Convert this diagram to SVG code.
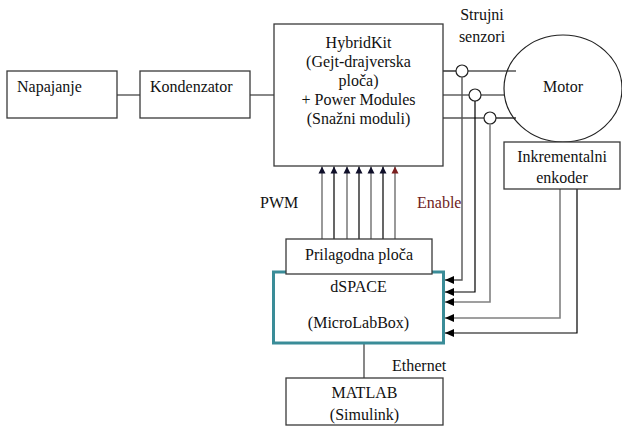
<svg xmlns="http://www.w3.org/2000/svg" width="622" height="426" viewBox="0 0 622 426">
<style>
.box{fill:#fff;stroke:#3a3a3a;stroke-width:1.3}
text{font-family:'Liberation Serif','DejaVu Serif',serif;font-size:16px;fill:#111}
.m{text-anchor:middle}
.k{stroke:#000;stroke-width:1.2;fill:none}
.g{stroke:#808080;stroke-width:1.6;fill:none}
.c{stroke:#555;stroke-width:1.4;fill:none}
</style>
<defs>
<marker id="ah" markerWidth="8" markerHeight="8" refX="7" refY="4" orient="auto" markerUnits="userSpaceOnUse">
<path d="M0,0.5 L7,4 L0,7.5 z" fill="#10102a"/>
</marker>
<marker id="ahr" markerWidth="8" markerHeight="8" refX="7" refY="4" orient="auto" markerUnits="userSpaceOnUse">
<path d="M0,0.5 L7,4 L0,7.5 z" fill="#7a1f1f"/>
</marker>
<marker id="al" markerWidth="10" markerHeight="10" refX="9" refY="5" orient="auto" markerUnits="userSpaceOnUse">
<path d="M0,1 L9,5 L0,9 z" fill="#000"/>
</marker>
</defs>
<g id="connectors">
<line class="c" x1="117" y1="95" x2="140" y2="95"/>
<line class="c" x1="250" y1="95" x2="274" y2="95"/>
<line class="k" x1="443" y1="71" x2="456" y2="71"/>
<line class="k" x1="468" y1="71" x2="516" y2="71"/>
<line class="c" x1="443" y1="95" x2="469" y2="95"/>
<line class="c" x1="481" y1="95" x2="504" y2="95"/>
<line class="k" x1="443" y1="118" x2="484" y2="118"/>
<line class="k" x1="496" y1="118" x2="516" y2="118"/>
<circle cx="462" cy="71" r="6" fill="#fff" stroke="#222" stroke-width="1.2"/>
<circle cx="475" cy="95" r="6" fill="#fff" stroke="#222" stroke-width="1.2"/>
<circle cx="490" cy="118" r="6" fill="#fff" stroke="#222" stroke-width="1.2"/>
<polyline class="c" points="462,77 462,280 445,280" marker-end="url(#al)"/>
<polyline class="k" points="475,101 475,292 445,292" marker-end="url(#al)"/>
<polyline class="g" points="490,124 490,302 445,302" marker-end="url(#al)"/>
<polyline class="g" points="560,189 560,318 445,318" marker-end="url(#al)"/>
<polyline class="k" points="577,189 577,333 445,333" marker-end="url(#al)"/>
<line class="g" x1="322" y1="239" x2="322" y2="166.5" marker-end="url(#ah)"/>
<line class="k" x1="334" y1="239" x2="334" y2="166.5" marker-end="url(#ah)"/>
<line class="g" x1="347" y1="239" x2="347" y2="166.5" marker-end="url(#ah)"/>
<line class="k" x1="359" y1="239" x2="359" y2="166.5" marker-end="url(#ah)"/>
<line class="g" x1="371" y1="239" x2="371" y2="166.5" marker-end="url(#ah)"/>
<line class="k" x1="383" y1="239" x2="383" y2="166.5" marker-end="url(#ah)"/>
<line class="g" x1="395" y1="239" x2="395" y2="166.5" marker-end="url(#ahr)"/>
<line class="c" x1="364" y1="344" x2="364" y2="378"/>
</g>
<g id="napajanje">
<rect class="box" x="7" y="71" width="110" height="47"/>
<text x="17" y="92">Napajanje</text>
</g>
<g id="kondenzator">
<rect class="box" x="140" y="71" width="110" height="47"/>
<text x="150" y="92">Kondenzator</text>
</g>
<g id="hybridkit">
<rect class="box" x="274" y="24" width="169" height="142"/>
<text class="m" x="358.5" y="48">HybridKit</text>
<text class="m" x="358.5" y="67">(Gejt-drajverska</text>
<text class="m" x="358.5" y="86">ploča)</text>
<text class="m" x="358.5" y="105">+ Power Modules</text>
<text class="m" x="358.5" y="124">(Snažni moduli)</text>
</g>
<g id="strujni-senzori">
<text class="m" x="482" y="20">Strujni</text>
<text class="m" x="482" y="42">senzori</text>
</g>
<g id="motor">
<ellipse cx="563" cy="88.5" rx="59" ry="53.5" fill="none" stroke="#222" stroke-width="1.2"/>
<text class="m" x="563" y="92">Motor</text>
</g>
<g id="enkoder">
<rect class="box" x="504" y="142" width="116" height="47"/>
<text class="m" x="562" y="162">Inkrementalni</text>
<text class="m" x="562" y="183">enkoder</text>
</g>
<g id="labels">
<text x="260" y="208">PWM</text>
<text x="417" y="208" style="fill:#6e2222">Enable</text>
<text x="392" y="371">Ethernet</text>
</g>
<g id="dspace">
<rect x="273.5" y="272" width="170" height="71" fill="#fff" stroke="#3a8c98" stroke-width="3"/>
<text class="m" x="358.5" y="292">dSPACE</text>
<text class="m" x="358.5" y="328">(MicroLabBox)</text>
</g>
<g id="prilagodna">
<rect class="box" x="286" y="239" width="146" height="35"/>
<text class="m" x="359" y="260">Prilagodna ploča</text>
</g>
<g id="matlab">
<rect class="box" x="286" y="378" width="157" height="47"/>
<text class="m" x="364.5" y="398">MATLAB</text>
<text class="m" x="364.5" y="420">(Simulink)</text>
</g>
</svg>
